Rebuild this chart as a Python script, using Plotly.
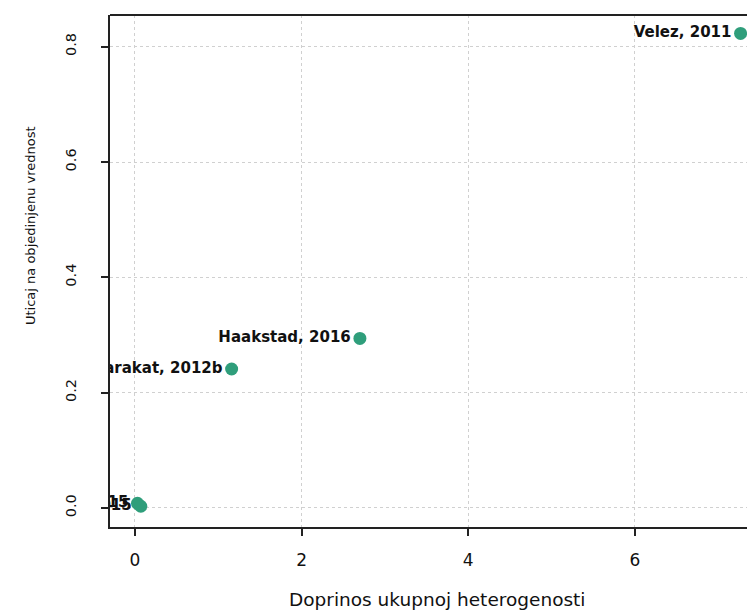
import plotly.graph_objects as go

studies = ["Velez, 2011", "Haakstad, 2016", "Barakat, 2012b", "Barakat, 2015", "Perales, 2015"]
heterogeneity = [7.27, 2.70, 1.16, 0.03, 0.07]
influence = [0.823, 0.294, 0.241, 0.008, 0.003]

x_ticks = [0, 2, 4, 6]
y_ticks = [0.0, 0.2, 0.4, 0.6, 0.8]
y_tick_labels = ["0.0", "0.2", "0.4", "0.6", "0.8"]

x_title = "Doprinos ukupnoj heterogenosti"
y_title = "Uticaj na objedinjenu vrednost"

FONT = "DejaVu Sans, Liberation Sans, Arial, sans-serif"

OFF = 8  # browser default body margin
W, H = 755 - OFF, 610 - OFF
L, R, T = 110 - OFF, 0, 15 - OFF
B = H - (527 - OFF)
PW, PH = W - L - R, H - T - B


def px_x(sx):
    return (sx - OFF - L) / PW


def px_y(sy):
    return (H - B - (sy - OFF)) / PH


fig = go.Figure()
fig.add_trace(go.Scatter(
    x=heterogeneity, y=influence, mode="markers+text",
    text=studies, textposition="middle left",
    textfont=dict(family=FONT, size=15, color="#111111", weight="bold"),
    marker=dict(size=13, color="#2f9e7b"),
    cliponaxis=True, showlegend=False,
))

fig.update_layout(
    width=W, height=H,
    margin=dict(l=L, r=R, t=T, b=B, pad=0),
    paper_bgcolor="white", plot_bgcolor="white",
    font=dict(family=FONT, size=15, color="#111111"),
    xaxis=dict(range=[-0.3, -0.3 + PW / 83.3], tickvals=x_ticks, ticks="outside", ticklen=7,
               tickwidth=1.5, tickcolor="#222", showline=True, linecolor="#222",
               linewidth=2, showgrid=True, gridcolor="#d0d0d0", griddash="dot",
               gridwidth=1, zeroline=False, ticklabelstandoff=10,
               tickfont=dict(size=17)),
    yaxis=dict(range=[-0.033, 0.855], tickvals=y_ticks, ticktext=y_tick_labels,
               ticks="outside", ticklen=7, tickwidth=1.5, tickcolor="#222",
               showline=True, linecolor="#222", linewidth=2, showgrid=True,
               gridcolor="#d0d0d0", griddash="dot", gridwidth=1, zeroline=False,
               tickangle=-90, ticklabelstandoff=19, tickfont=dict(size=14.5)),
    shapes=[dict(type="line", xref="paper", yref="paper", x0=0, x1=1.05, y0=1, y1=1,
                 line=dict(color="#222", width=2))],
    annotations=[
        dict(text=x_title, xref="paper", yref="paper", x=px_x(437),
             y=px_y(599), xanchor="center", yanchor="middle",
             showarrow=False, font=dict(size=18.5)),
        dict(text=y_title, xref="paper", yref="paper", x=px_x(30),
             y=px_y(226), xanchor="center", yanchor="middle",
             textangle=-90, showarrow=False, font=dict(size=13)),
    ],
)

fig.write_html("out.html")
